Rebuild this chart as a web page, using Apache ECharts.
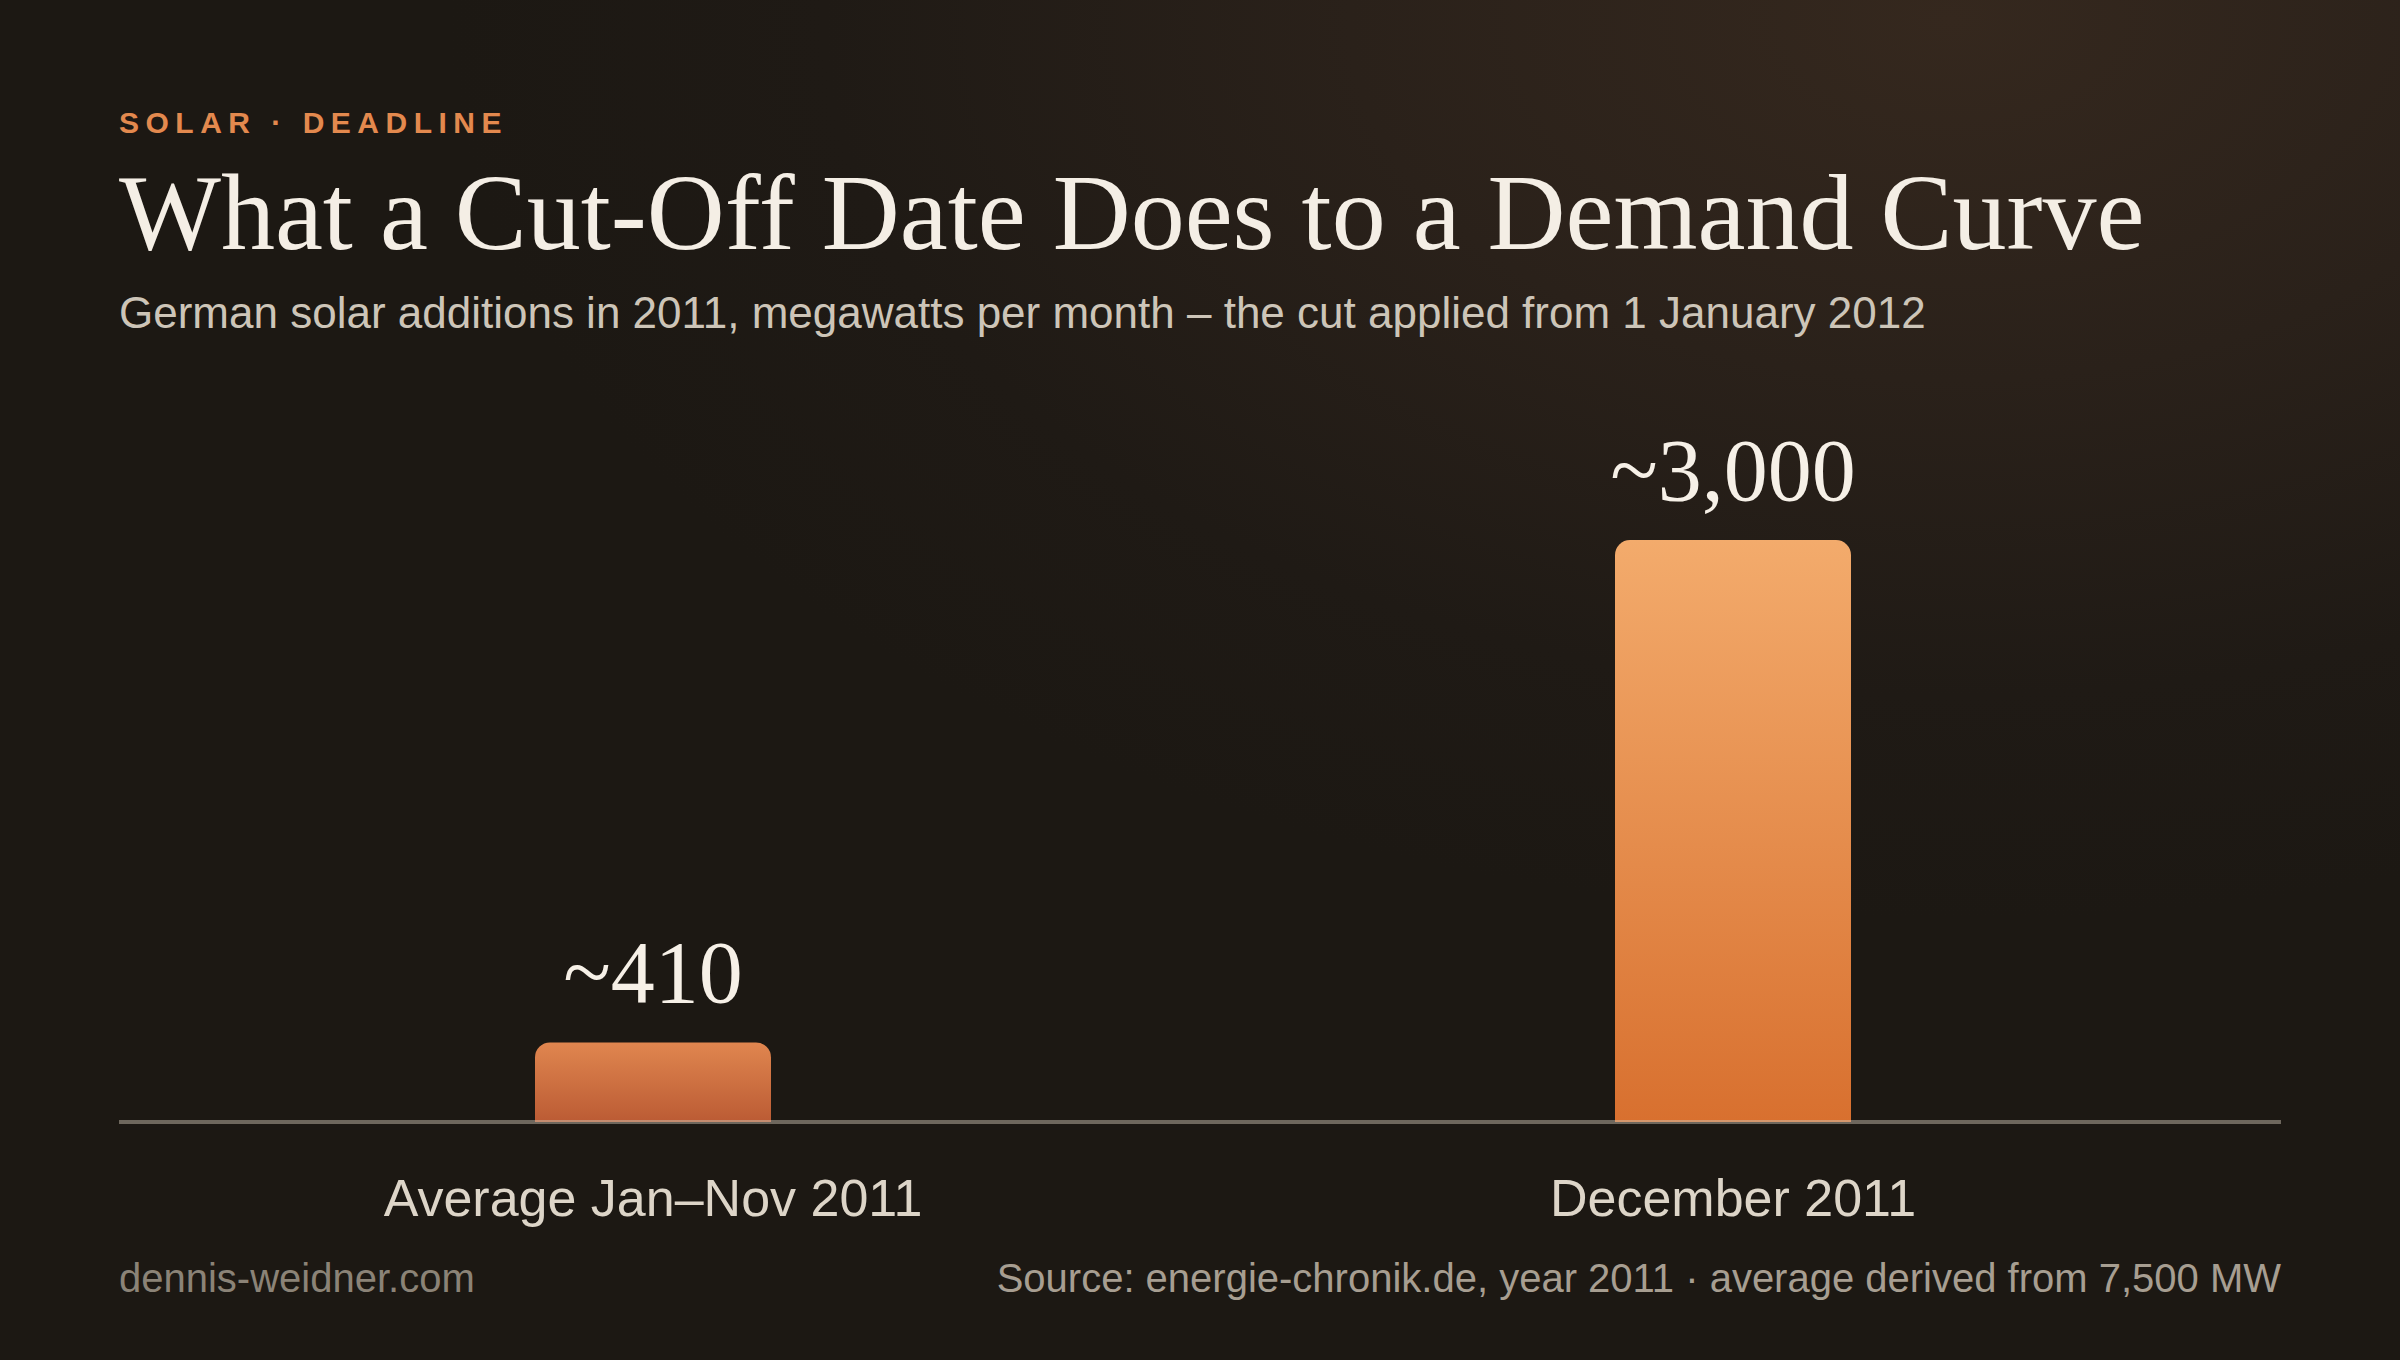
<!DOCTYPE html>
<html>
<head>
<meta charset="utf-8">
<script src="https://cdn.jsdelivr.net/npm/echarts@6/dist/echarts.min.js"></script>
<style>
  html, body { margin: 0; padding: 0; }
  body {
    width: 2400px; height: 1360px; overflow: hidden;
    background: radial-gradient(ellipse 1500px 900px at 1950px 20px, #35281e 0%, #2a211a 40%, #1f1a15 75%, #1c1813 100%);
  }
  #chart { width: 2400px; height: 1360px; }
  #chart svg text[fill="#e3894e"] { letter-spacing: 6.5px; }
</style>
</head>
<body>
<div id="chart"></div>
<script>
var categories = ['Average Jan\u2013Nov 2011', 'December 2011'];
var values = [410, 3000];
var valueLabels = ['~410', '~3,000'];
var barTop = ['#e0864f', '#f3ab6c'];
var barBottom = ['#bb5b34', '#d8702f'];

var sans = '"Liberation Sans", Arial, Helvetica, sans-serif';
var serif = '"Liberation Serif", "Times New Roman", serif';

var myChart = echarts.init(document.getElementById('chart'), null, { renderer: 'svg' });

var barData = [];
for (var i = 0; i < values.length; i++) {
  barData.push({
    value: values[i],
    itemStyle: {
      color: new echarts.graphic.LinearGradient(0, 0, 0, 1, [
        { offset: 0, color: barTop[i] },
        { offset: 1, color: barBottom[i] }
      ])
    }
  });
}

var option = {
  backgroundColor: 'transparent',
  animation: false,
  grid: {
    left: 113,
    width: 2160,
    top: 540,
    bottom: 238
  },
  xAxis: {
    type: 'category',
    data: categories,
    axisLine: { show: false },
    axisTick: { show: false },
    axisLabel: {
      margin: 50,
      fontFamily: sans,
      fontSize: 52,
      color: '#ddd5c8'
    }
  },
  yAxis: {
    type: 'value',
    min: 0,
    max: 3000,
    show: false,
    splitLine: { show: false }
  },
  series: [
    {
      type: 'bar',
      data: barData,
      barWidth: 236,
      itemStyle: { borderRadius: [15, 15, 0, 0] },
      label: {
        show: true,
        position: 'top',
        distance: 26,
        fontFamily: serif,
        fontSize: 88,
        color: '#f6f0e7',
        formatter: function (p) { return valueLabels[p.dataIndex]; }
      }
    }
  ],
  graphic: [
    {
      type: 'line',
      z: 100,
      shape: { x1: 119, y1: 1122, x2: 2281, y2: 1122 },
      style: { stroke: 'rgba(210,200,185,0.45)', lineWidth: 4 }
    },
    {
      type: 'text', left: 119, top: 107,
      style: { text: 'SOLAR \u00b7 DEADLINE', fill: '#e3894e', font: 'bold 30px ' + sans }
    },
    {
      type: 'text', left: 119, top: 158,
      style: { text: 'What a Cut-Off Date Does to a Demand Curve', fill: '#f4eee5', font: '108px ' + serif }
    },
    {
      type: 'text', left: 119, top: 290,
      style: { text: 'German solar additions in 2011, megawatts per month \u2013 the cut applied from 1 January 2012', fill: '#cdc5b8', font: '44px ' + sans }
    },
    {
      type: 'text', left: 119, top: 1258,
      style: { text: 'dennis-weidner.com', fill: '#8b8377', font: '40px ' + sans }
    },
    {
      type: 'text', right: 119, top: 1258,
      style: { text: 'Source: energie-chronik.de, year 2011 \u00b7 average derived from 7,500 MW', fill: '#a79e91', font: '40px ' + sans }
    }
  ]
};

myChart.setOption(option);
</script>
</body>
</html>
